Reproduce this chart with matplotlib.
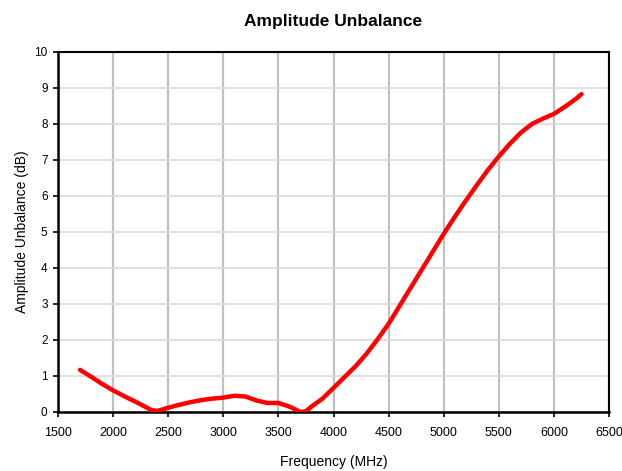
import matplotlib
matplotlib.use('Agg')
import matplotlib.pyplot as plt
import numpy as np

# Data
freq_mhz = [1700, 1800, 1900, 2000, 2100, 2200, 2300, 2350, 2400, 2450, 2500,
            2600, 2700, 2800, 2900, 3000, 3100, 3200, 3300, 3400, 3500, 3600,
            3700, 3750, 3800, 3900, 4000, 4100, 4200, 4300, 4400, 4500, 4600,
            4700, 4800, 4900, 5000, 5100, 5200, 5300, 5400, 5500, 5600, 5700,
            5800, 5900, 6000, 6100, 6200, 6250]
unbalance_db = [1.17, 0.98, 0.78, 0.6, 0.44, 0.29, 0.13, 0.05, 0.03, 0.07, 0.12,
                0.2, 0.27, 0.33, 0.37, 0.4, 0.45, 0.43, 0.32, 0.25, 0.25, 0.15,
                0.0, 0.02, 0.15, 0.37, 0.67, 0.97, 1.27, 1.62, 2.02, 2.45, 2.95,
                3.45, 3.95, 4.45, 4.95, 5.42, 5.87, 6.3, 6.72, 7.1, 7.45, 7.76,
                8.0, 8.15, 8.28, 8.48, 8.7, 8.83]

x_ticks = np.arange(1500, 6501, 500)
y_ticks = np.arange(0, 11, 1)

plt.rcParams['font.family'] = ['Liberation Sans', 'DejaVu Sans']

fig = plt.figure(figsize=(6.22, 4.71), dpi=100)
ax = fig.add_axes([0.0932, 0.1253, 0.886, 0.7643])

ax.plot(freq_mhz, unbalance_db, color='#ff0000', linewidth=3.2,
        solid_capstyle='round', solid_joinstyle='round', zorder=3)

ax.set_xlim(1500, 6500)
ax.set_ylim(0, 10)
ax.set_xticks(x_ticks)
ax.set_yticks(y_ticks)

# grid: vertical lines darker/thicker than horizontal ones
ax.xaxis.grid(True, color='#c0c0c0', linewidth=1.6)
ax.yaxis.grid(True, color='#d9d9d9', linewidth=1.2)
ax.set_axisbelow(True)

for side in ['left', 'bottom']:
    ax.spines[side].set_linewidth(1.8)
for side in ['top', 'right']:
    ax.spines[side].set_linewidth(1.5)

ax.tick_params(direction='out', length=3.5, width=1.2, pad=4)
ax.tick_params(axis='x', labelsize=9, pad=7)
ax.tick_params(axis='y', labelsize=8.5, pad=4)

ax.set_xlabel('Frequency (MHz)', fontsize=10, labelpad=12)
ax.set_ylabel('Amplitude Unbalance (dB)', fontsize=10, labelpad=4)
ax.set_title('Amplitude Unbalance', fontsize=12.5, fontweight='bold', pad=19)

fig.savefig('out.png', dpi=100)
